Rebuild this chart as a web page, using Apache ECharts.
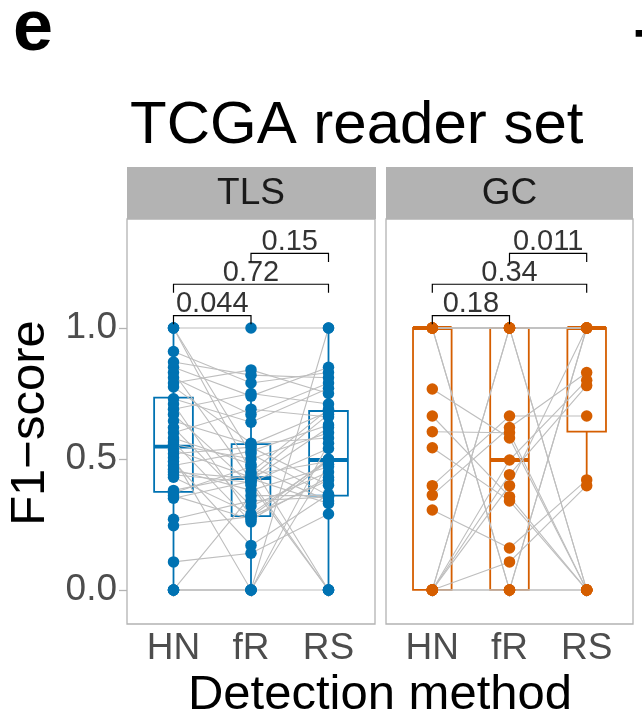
<!DOCTYPE html>
<html><head><meta charset="utf-8">
<script src="https://cdn.jsdelivr.net/npm/echarts@6/dist/echarts.min.js"></script>
<style>html,body{margin:0;padding:0;background:#fff}#c{width:642px;height:724px}</style>
</head><body><div id="c"></div>
<script>
const methods = ['HN', 'fR', 'RS'];
const panels = ['TLS', 'GC'];
const yTicks = [0, 0.5, 1.0];
const yTickLabels = ['0.0', '0.5', '1.0'];

// TLS: F1-score per reader (paired across methods)
const tlsHN = [1.0,0,1.0,1.0,0.91,0.87,0.85,0.83,0.81,0.79,0.775,0.73,0.71,0.69,0.67,0.645,0.62,0.60,0.58,0.565,0.555,0.535,0.52,0.505,0.49,0.475,0.46,0.45,0.44,0.43,0.38,0.37,0.36,0.35,0.27,0.245,0.107,0,0,0];
const tlsFR = [1.0,0,0.45,0.52,0.79,0.82,0.74,0.42,0.67,0.84,0.56,0.64,0.28,0.75,0.40,0.555,0.32,0.69,0.48,0.26,0.50,0.43,0.545,0,0.17,0.53,0.38,0.425,0.41,0.29,0.44,0.47,0.27,0.415,0.34,0.28,0.14,0.36,0,0];
const tlsRS = [1.0,0,0.69,0.36,0.83,0.81,0.85,0.62,0.79,0.75,0.58,0.77,0.50,0.71,0,0.68,0.45,0.66,0,0.495,0.60,0.67,0.40,0.56,0.365,0.63,0.47,0.33,0.54,0.495,0.49,0.34,0.43,0,0.355,0.42,0.29,0.36,0.48,1.0];

// GC: F1-score per reader
const gcHN = [1,1,1,1,1,0.767,0.664,0.604,0.543,0.398,0.362,0.305,0,0,0,0,0,0,0,1,0];
const gcFR = [1,1,1,0,1,0.58,0.356,0.60,0.34,0.664,0.62,0.16,0.496,0.44,0.398,0.107,1,0,0,0,1];
const gcRS = [1,1,0,1,1,0,0,0,0,0.664,0.83,0.42,0.80,0.78,1,0.398,1,0,1,0,0];

// box stats [whisker low, Q1, median, Q3, whisker high]
const tlsBoxHN = [0, 0.374, 0.547, 0.734, 1.0];
const tlsBoxFR = [0, 0.282, 0.427, 0.557, 0.84];
const tlsBoxRS = [0, 0.36, 0.496, 0.683, 1.0];
const gcBoxHN = [0, 0, 1.0, 1.0, 1.0];
const gcBoxFR = [0, 0, 0.496, 1.0, 1.0];
const gcBoxRS = [0.398, 0.604, 1.0, 1.0, 1.0];

// significance brackets
const bracketPairs = [[1, 2], [1, 3], [2, 3]];
const bracketLevels = [1.047, 1.167, 1.285];
const tlsPvals = ['0.044', '0.72', '0.15'];
const gcPvals = ['0.18', '0.34', '0.011'];

const colors = ['#0072B2', '#D55E00'];
const FONT = '"Liberation Sans", Arial, sans-serif';

const panelData = [
  {hn: tlsHN, fr: tlsFR, rs: tlsRS, box: [tlsBoxHN, tlsBoxFR, tlsBoxRS], p: tlsPvals},
  {hn: gcHN, fr: gcFR, rs: gcRS, box: [gcBoxHN, gcBoxFR, gcBoxRS], p: gcPvals}
];

function boxRender(color) {
  return function (params, api) {
    const x = api.value(0);
    const pts = [1, 2, 3, 4, 5].map(i => api.coord([x, api.value(i)]));
    const cx = pts[0][0];
    const hw = api.size([0.5, 0])[0] / 2;
    const ls = {stroke: color, lineWidth: 1.8, fill: null};
    return {
      type: 'group',
      children: [
        {type: 'line', shape: {x1: cx, y1: pts[0][1], x2: cx, y2: pts[1][1]}, style: ls},
        {type: 'line', shape: {x1: cx, y1: pts[3][1], x2: cx, y2: pts[4][1]}, style: ls},
        {type: 'rect', shape: {x: cx - hw, y: pts[3][1], width: 2 * hw, height: pts[1][1] - pts[3][1]},
          style: {stroke: color, lineWidth: 1.8, fill: 'none'}},
        {type: 'line', shape: {x1: cx - hw, y1: pts[2][1], x2: cx + hw, y2: pts[2][1]},
          style: {stroke: color, lineWidth: 3.8}}
      ]
    };
  };
}

const grids = [
  {left: 127, top: 219, width: 248, height: 405},
  {left: 386, top: 219, width: 247, height: 405}
].map(g => Object.assign(g, {show: true, borderColor: '#B3B3B3', borderWidth: 1.3, backgroundColor: '#fff'}));

const xAxes = [0, 1].map(i => ({
  type: 'value', gridIndex: i, min: 0.4, max: 3.6,
  axisLine: {show: false}, splitLine: {show: false},
  axisTick: {show: true, customValues: [1, 2, 3], length: 7, lineStyle: {color: '#B3B3B3', width: 1.3}},
  axisLabel: {customValues: [1, 2, 3], formatter: v => methods[Math.round(v) - 1],
    fontSize: 37, color: '#4D4D4D', margin: 6, fontFamily: FONT}
}));

const yAxes = [0, 1].map(i => ({
  type: 'value', gridIndex: i, min: -0.13, max: 1.416,
  axisLine: {show: false}, splitLine: {show: false},
  axisTick: {show: i === 0, customValues: yTicks, length: 8, lineStyle: {color: '#B3B3B3', width: 1.3}},
  axisLabel: {show: i === 0, customValues: yTicks,
    formatter: v => yTickLabels[yTicks.findIndex(t => Math.abs(t - v) < 1e-6)],
    fontSize: 37, color: '#4D4D4D', margin: 10, fontFamily: FONT}
}));

const series = [];
panelData.forEach((pd, i) => {
  const col = colors[i];
  series.push({
    type: 'custom', xAxisIndex: i, yAxisIndex: i, z: 2,
    renderItem: boxRender(col),
    encode: {x: 0, y: [1, 2, 3, 4, 5]},
    data: pd.box.map((b, k) => [k + 1].concat(b))
  });
  series.push({
    type: 'lines', coordinateSystem: 'cartesian2d', xAxisIndex: i, yAxisIndex: i, z: 3,
    polyline: true, silent: true,
    lineStyle: {color: '#BEBEBE', width: 1.1, opacity: 1},
    data: pd.hn.map((v, r) => ({coords: [[1, pd.hn[r]], [2, pd.fr[r]], [3, pd.rs[r]]]}))
  });
  const pts = [];
  [pd.hn, pd.fr, pd.rs].forEach((arr, k) => arr.forEach(v => pts.push([k + 1, v])));
  series.push({
    type: 'scatter', xAxisIndex: i, yAxisIndex: i, z: 4, symbolSize: 11.5,
    itemStyle: {color: col, opacity: 1}, data: pts
  });
  series.push({
    type: 'lines', coordinateSystem: 'cartesian2d', xAxisIndex: i, yAxisIndex: i, z: 5,
    polyline: true, silent: true,
    lineStyle: {color: '#000', width: 1.2, opacity: 1},
    data: bracketPairs.map((pr, k) => {
      const y = bracketLevels[k], t = 0.033;
      return {coords: [[pr[0], y - t], [pr[0], y], [pr[1], y], [pr[1], y - t]]};
    })
  });
  series.push({
    type: 'scatter', xAxisIndex: i, yAxisIndex: i, z: 6, symbolSize: 0, silent: true,
    data: bracketPairs.map((pr, k) => [(pr[0] + pr[1]) / 2, bracketLevels[k]]),
    label: {show: true, position: 'top', distance: -3, formatter: p => pd.p[p.dataIndex],
      fontSize: 29, color: '#000', fontFamily: FONT}
  });
});

const graphic = [
  {type: 'text', x: 13, y: 30, style: {text: 'e', font: 'bold 72px ' + FONT, fill: '#000', verticalAlign: 'middle'}},
  {type: 'text', x: 635, y: 54, style: {text: 'T', font: 'bold 60px ' + FONT, fill: '#000', verticalAlign: 'middle'}},
  {type: 'text', x: 130, y: 126, style: {text: 'TCGA reader set', font: '60px ' + FONT, fill: '#000', verticalAlign: 'middle'}},
  {type: 'rect', shape: {x: 127, y: 167, width: 249, height: 52}, style: {fill: '#B3B3B3'}},
  {type: 'rect', shape: {x: 386, y: 167, width: 247, height: 52}, style: {fill: '#B3B3B3'}},
  {type: 'text', x: 251, y: 194, style: {text: panels[0], font: '37px ' + FONT, fill: '#1A1A1A', align: 'center', verticalAlign: 'middle'}},
  {type: 'text', x: 509.5, y: 194, style: {text: panels[1], font: '37px ' + FONT, fill: '#1A1A1A', align: 'center', verticalAlign: 'middle'}},
  {type: 'text', x: 380, y: 695, style: {text: 'Detection method', font: '49px ' + FONT, fill: '#000', align: 'center', verticalAlign: 'middle'}},
  {type: 'text', x: 30, y: 423, rotation: Math.PI / 2, style: {text: 'F1−score', font: '49px ' + FONT, fill: '#000', align: 'center', verticalAlign: 'middle'}}
];

const chart = echarts.init(document.getElementById('c'), null, {renderer: 'canvas'});
chart.setOption({
  animation: false,
  backgroundColor: '#fff',
  textStyle: {fontFamily: FONT},
  grid: grids, xAxis: xAxes, yAxis: yAxes, series: series, graphic: graphic
});
</script></body></html>
